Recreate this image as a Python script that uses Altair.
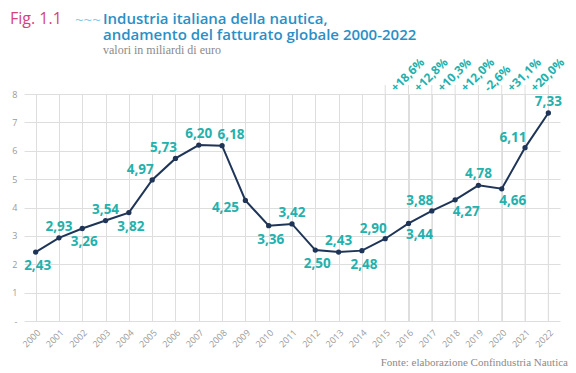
import altair as alt
import pandas as pd

# ---- data ----
years = [str(y) for y in range(2000, 2023)]
values = [2.43, 2.93, 3.26, 3.54, 3.82, 4.97, 5.73, 6.20, 6.18, 4.25, 3.36,
          3.42, 2.50, 2.43, 2.48, 2.90, 3.44, 3.88, 4.27, 4.78, 4.66, 6.11, 7.33]
value_labels = ["2,43", "2,93", "3,26", "3,54", "3,82", "4,97", "5,73", "6,20",
                "6,18", "4,25", "3,36", "3,42", "2,50", "2,43", "2,48", "2,90",
                "3,44", "3,88", "4,27", "4,78", "4,66", "6,11", "7,33"]
label_place = ["below", "above", "below", "above", "below", "aboveleft",
               "aboveleft", "above", "aboveright", "belowleft", "below",
               "above", "below", "above", "below", "aboveleft", "belowright",
               "aboveleft", "belowright", "above", "belowright", "aboveleft",
               "above"]
pct_years = ["2016", "2017", "2018", "2019", "2020", "2021", "2022"]
pct_labels = ["+18,6%", "+12,8%", "+10,3%", "+12,0%", "-2,6%", "+31,1%", "+20,0%"]
ext_years = ["2015", "2016", "2017", "2018", "2019", "2020", "2021", "2022"]
y_ticks = [0, 1, 2, 3, 4, 5, 6, 7, 8]

df = pd.DataFrame({"year": years, "value": values, "label": value_labels,
                   "place": label_place})
df_pct = pd.DataFrame({"year": pct_years, "pct": pct_labels})
df_ext = pd.DataFrame({"year": ext_years})
one = pd.DataFrame({"a": [0]})

# ---- style ----
W, H = 536, 227
NAVY = "#1f3558"
TEAL = "#23b1ad"
GRID = "#dedede"
AXIS_TXT = "#9a9a9a"
BLUE = "#2a8fc6"
PINK = "#d8427c"
FONT = "Open Sans"
SERIF = "Liberation Serif"

xenc = alt.X("year:O", scale=alt.Scale(type="point", padding=0.5),
             axis=alt.Axis(title=None, labelAngle=-45, grid=True, ticks=False,
                           domain=False, labelColor=AXIS_TXT, labelFontSize=9,
                           labelFont=FONT, labelPadding=7, gridColor=GRID))
yenc = alt.Y("value:Q", scale=alt.Scale(domain=[0, 8], nice=False),
             axis=alt.Axis(title=None, values=y_ticks, ticks=False, domain=False,
                           labelColor=AXIS_TXT, labelFontSize=9, labelFont=FONT,
                           labelPadding=7, gridColor=GRID, labelOverlap=False,
                           labelExpr="datum.value == 0 ? '-' : datum.label"))

base = alt.Chart(df)

ext_rules = alt.Chart(df_ext).mark_rule(color=GRID, strokeWidth=1).encode(
    x=xenc, y=alt.value(-9), y2=alt.value(H))

line = base.mark_line(color=NAVY, strokeWidth=2).encode(x=xenc, y=yenc)
pts = base.mark_circle(color=NAVY, size=28, opacity=1).encode(x=xenc, y=yenc)

offsets = {
    "above": (0, -11),
    "below": (2, 14),
    "aboveleft": (-12, -10),
    "aboveright": (9, -11),
    "belowright": (11, 12),
    "belowleft": (-20, 8),
}
label_layers = []
for place, (ddx, ddy) in offsets.items():
    label_layers.append(
        base.transform_filter(alt.datum.place == place).mark_text(
            color=TEAL, font=FONT, fontSize=13.5, fontWeight="bold",
            dx=ddx, dy=ddy, baseline="middle", align="center"
        ).encode(x=xenc, y=yenc, text="label:N")
    )

pct_text = alt.Chart(df_pct).mark_text(
    color=TEAL, font=FONT, fontSize=12, fontWeight="bold", angle=315,
    align="left", baseline="middle", dx=-8, dy=-14
).encode(x=xenc, y=alt.value(0), text="pct:N")

fig = alt.Chart(one).mark_text(color=PINK, font=FONT, fontSize=16, align="left",
                               baseline="alphabetic").encode(
    x=alt.value(-14), y=alt.value(-70), text=alt.value("Fig. 1.1"))
wave = alt.Chart(one).mark_text(color="#86c9e6", font=FONT, fontSize=15, align="left",
                                baseline="middle").encode(
    x=alt.value(51), y=alt.value(-74), text=alt.value("~~~"))
title1 = alt.Chart(one).mark_text(color=BLUE, font=FONT, fontSize=15, fontWeight=600,
                                  align="left", baseline="alphabetic").encode(
    x=alt.value(79), y=alt.value(-70), text=alt.value("Industria italiana della nautica,"))
title2 = alt.Chart(one).mark_text(color=BLUE, font=FONT, fontSize=15, fontWeight=600,
                                  align="left", baseline="alphabetic").encode(
    x=alt.value(79), y=alt.value(-54),
    text=alt.value("andamento del fatturato globale 2000-2022"))
subtitle = alt.Chart(one).mark_text(color="#8a8a8a", font=SERIF, fontSize=12,
                                    align="left", baseline="alphabetic").encode(
    x=alt.value(79), y=alt.value(-40), text=alt.value("valori in miliardi di euro"))
source = alt.Chart(one).mark_text(color="#8a8a8a", font=SERIF, fontSize=11,
                                  align="right", baseline="alphabetic").encode(
    x=alt.value(544), y=alt.value(272),
    text=alt.value("Fonte: elaborazione Confindustria Nautica"))

chart = alt.layer(ext_rules, line, pts, *label_layers, pct_text,
                  fig, wave, title1, title2, subtitle, source).properties(
    width=W, height=H,
    autosize=alt.AutoSizeParams(type="none"),
    padding={"left": 16, "top": 86, "right": 8, "bottom": 52},
).configure_view(stroke=None)

chart.save("out.html", embed_options={"renderer": "svg", "actions": False})
